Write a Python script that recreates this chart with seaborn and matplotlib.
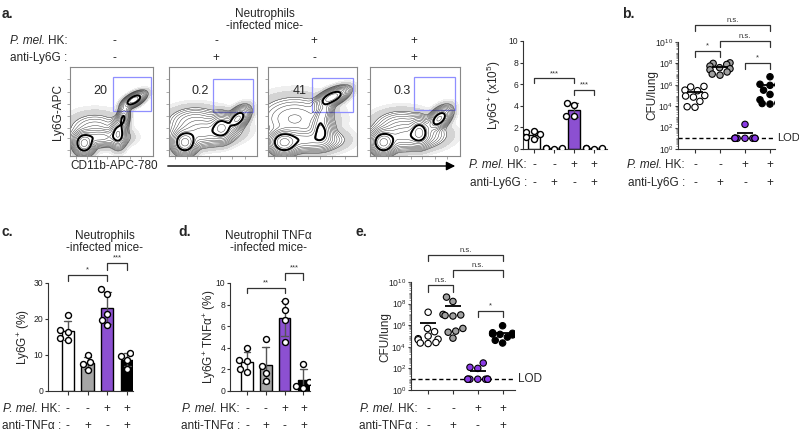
import numpy as np
import pandas as pd
import matplotlib
matplotlib.use('Agg')
import matplotlib.pyplot as plt
import matplotlib.transforms as transforms
from matplotlib.patches import FancyArrowPatch, Rectangle
import seaborn as sns

sns.set_style('ticks')
plt.rcParams['font.family'] = ['Liberation Sans', 'DejaVu Sans']
plt.rcParams['mathtext.fontset'] = 'custom'
plt.rcParams['mathtext.rm'] = 'Liberation Sans'
plt.rcParams['mathtext.it'] = 'Liberation Sans:italic'
plt.rcParams['mathtext.bf'] = 'Liberation Sans:bold'

# ---- data ----
hk_signs = ['-', '-', '+', '+']
treat_signs = ['-', '+', '-', '+']
flow_pct = ['20', '0.2', '41', '0.3']

# flow density clusters: (cx, cy, sx, sy, rho, weight) in plot fraction
flow_ctrl = [(0.17, 0.14, 0.055, 0.055, 0.0, 1.0), (0.36, 0.21, 0.14, 0.045, 0.0, 0.30),
             (0.58, 0.25, 0.045, 0.07, 0.0, 0.55), (0.64, 0.42, 0.035, 0.07, 0.3, 0.40),
             (0.77, 0.63, 0.06, 0.04, 0.6, 0.80), (0.30, 0.30, 0.16, 0.09, 0.0, 0.06)]
flow_ly6g = [(0.18, 0.15, 0.06, 0.06, 0.0, 1.0), (0.40, 0.26, 0.17, 0.07, 0.2, 0.30),
             (0.60, 0.32, 0.06, 0.07, 0.0, 0.55), (0.78, 0.42, 0.06, 0.06, 0.5, 0.65),
             (0.30, 0.38, 0.15, 0.08, 0.0, 0.10)]
flow_hk = [(0.18, 0.15, 0.07, 0.06, 0.0, 1.0), (0.40, 0.18, 0.18, 0.06, 0.0, 0.35),
           (0.60, 0.28, 0.06, 0.08, 0.0, 0.45), (0.62, 0.48, 0.05, 0.08, 0.5, 0.35),
           (0.72, 0.66, 0.08, 0.05, 0.6, 0.85), (0.30, 0.42, 0.20, 0.12, 0.0, 0.10)]
flow_hk_ly6g = [(0.15, 0.15, 0.06, 0.06, 0.0, 1.0), (0.40, 0.22, 0.18, 0.07, 0.1, 0.30),
                (0.55, 0.27, 0.05, 0.07, 0.0, 0.55), (0.77, 0.42, 0.06, 0.06, 0.5, 0.65),
                (0.35, 0.35, 0.15, 0.08, 0.0, 0.08)]

# a: Ly6G+ counts (x10^5)
a_ctrl = [1.7, 1.55, 1.35, 1.1, 0.95]
a_ly6g = [0.06, 0.04, 0.05, 0.05]
a_hk = [4.3, 4.05, 3.1, 3.05]
a_hk_ly6g = [0.05, 0.06, 0.04, 0.05]

# b: log10 CFU/lung
b_ctrl = [5.85, 5.8, 5.5, 5.45, 5.0, 4.95, 4.85, 4.45, 3.95, 3.9]
b_ly6g = [8.05, 8.0, 7.9, 7.75, 7.6, 7.5, 7.4, 7.2, 7.0, 6.9]
b_hk = [2.3, 1, 1, 1, 1, 1, 1, 1, 1]
b_hk_ly6g = [6.75, 6.05, 6.0, 5.95, 5.5, 5.1, 4.6, 4.3, 4.25, 4.2]

# c: Ly6G+ (%)
c_ctrl = [21.0, 17.0, 16.5, 14.8, 14.2]
c_tnf = [10.0, 8.0, 7.4, 5.8]
c_hk = [28.3, 27.0, 21.3, 19.8, 18.3]
c_hk_tnf = [10.5, 9.7, 8.6, 6.1]

# d: Ly6G+ TNFa+ (%)
d_ctrl = [4.0, 2.9, 2.8, 2.0, 1.8]
d_tnf = [4.8, 2.3, 1.7, 0.9]
d_hk = [8.3, 7.5, 6.6, 4.5]
d_hk_tnf = [2.5, 0.8, 0.5, 0.3]

# e: log10 CFU/lung
e_ctrl = [7.2, 5.7, 5.4, 5.0, 4.75, 4.7, 4.65, 4.4, 4.35, 4.3]
e_tnf = [8.6, 8.2, 7.0, 6.95, 6.9, 6.85, 5.7, 5.45, 5.35, 4.8]
e_hk = [2.5, 2.1, 2.0, 1, 1, 1, 1, 1, 1, 1]
e_hk_tnf = [5.95, 5.3, 5.25, 5.2, 5.2, 5.15, 5.1, 4.9, 4.6, 4.35]

lod_log = 1.0

purple = '#8b3be6'
bar_colors = ['white', '#a6a6a6', purple, 'black']
dot_colors = ['white', '#a0a0a0', purple, 'black']
line_col = '#333333'

FS = 8.5

W, H = 799, 432
fig = plt.figure(figsize=(W / 100, H / 100), dpi=100)
renderer = fig.canvas.get_renderer()


def px_axes(l, t, r, b):
    return fig.add_axes([l / W, 1 - b / H, (r - l) / W, (b - t) / H])


def ftext(x, y, s, **kw):
    return fig.text(x / W, 1 - y / H, s, **kw)


def hk_label(x, y, ha='right'):
    # "P. mel." in italics followed by "HK:" in roman
    if ha == 'right':
        t = ftext(x, y, 'HK:', ha='right', va='center', fontsize=FS)
        x0 = t.get_window_extent(renderer).x0
        ftext(x0 - 3, y, 'P. mel.', ha='right', va='center', fontsize=FS, style='italic')
    else:
        t = ftext(x, y, 'P. mel.', ha='left', va='center', fontsize=FS, style='italic')
        x1 = t.get_window_extent(renderer).x1
        ftext(x1 + 3, y, 'HK:', ha='left', va='center', fontsize=FS)


def style_axes(ax):
    sns.despine(ax=ax)
    for sp in ['left', 'bottom']:
        ax.spines[sp].set_color(line_col)
        ax.spines[sp].set_linewidth(0.8)
    ax.tick_params(axis='y', labelsize=6.2, length=2.5, width=0.8, pad=0.8, colors=line_col, labelcolor='#222')
    ax.tick_params(axis='x', length=3, width=0.8, labelbottom=False, colors=line_col)
    ax.set_xlabel('')
    ax.set_ylabel('')


def sign_rows(ax, label_right, y1, y2, row2_label):
    tr = transforms.blended_transform_factory(ax.transData, fig.transFigure)
    for i in range(4):
        ax.text(i, 1 - y1 / H, hk_signs[i], transform=tr, ha='center', va='center', fontsize=FS)
        ax.text(i, 1 - y2 / H, treat_signs[i], transform=tr, ha='center', va='center', fontsize=FS)
    hk_label(label_right, y1)
    ftext(label_right, y2, row2_label, ha='right', va='center', fontsize=FS)


def bracket(ax, x1, x2, y, tick, label, log=False):
    if log:
        y0, yt, yl = 10 ** y, 10 ** (y - tick), 10 ** (y + 0.12)
    else:
        y0, yt, yl = y, y - tick, y + tick * 0.25
    ax.plot([x1, x1, x2, x2], [yt, y0, y0, yt], color=line_col, lw=0.9, clip_on=False)
    ax.text((x1 + x2) / 2, yl, label, ha='center', va='bottom', fontsize=5.5, color='#333', clip_on=False)


def long_df(groups, log=False):
    vals = np.concatenate([np.asarray(g, dtype=float) for g in groups])
    if log:
        vals = 10 ** vals
    grp = np.concatenate([[str(i)] * len(g) for i, g in enumerate(groups)])
    return pd.DataFrame({'grp': grp, 'val': vals})


def bar_panel(ax, groups, ylim, yticks):
    df = long_df(groups)
    order = ['0', '1', '2', '3']
    sns.barplot(data=df, x='grp', y='val', hue='grp', order=order, hue_order=order,
                palette=dict(zip(order, bar_colors)), legend=False, errorbar='sd',
                capsize=0.35, err_kws={'linewidth': 1, 'color': '#555555'},
                edgecolor='black', linewidth=1, width=0.62, ax=ax)
    sns.swarmplot(data=df, x='grp', y='val', order=order, color='white',
                  edgecolor='black', linewidth=1, size=4.3, ax=ax)
    ax.set_ylim(*ylim)
    ax.set_yticks(yticks)
    style_axes(ax)


def cfu_panel(ax, groups, xlim):
    df = long_df(groups, log=True)
    order = ['0', '1', '2', '3']
    sns.swarmplot(data=df, x='grp', y='val', hue='grp', order=order, hue_order=order,
                  palette=dict(zip(order, dot_colors)), legend=False, log_scale=True,
                  edgecolor='black', linewidth=0.8, size=4.6, ax=ax)
    for i, g in enumerate(groups):
        m = np.mean(10 ** np.asarray(g, dtype=float))
        ax.hlines(m, i - 0.32, i + 0.32, color='black', lw=1.3, zorder=5)
    ax.set_ylim(1, 1e10)
    ax.set_xlim(*xlim)
    ax.set_yticks([10 ** k for k in range(0, 11, 2)])
    ax.set_yticklabels([r'$10^{%d}$' % k for k in range(0, 11, 2)])
    ax.yaxis.set_minor_locator(matplotlib.ticker.LogLocator(base=10, subs=np.arange(1, 10), numticks=100))
    ax.yaxis.set_minor_formatter(matplotlib.ticker.NullFormatter())
    style_axes(ax)
    ax.tick_params(axis='y', which='minor', length=1.5, width=0.5, colors='#777')


def flow_panel(ax, clusters, pct, gate):
    g = np.linspace(0, 1, 240)
    X, Y = np.meshgrid(g, g)
    Z = np.zeros_like(X)
    for cx, cy, sx, sy, rho, w in clusters:
        dx = (X - cx) / sx
        dy = (Y - cy) / sy
        q = (dx ** 2 - 2 * rho * dx * dy + dy ** 2) / (1 - rho ** 2)
        Z += w * np.exp(-0.5 * q)
    Z /= Z.max()
    ax.contourf(X, Y, Z, levels=[0.0008, 0.003], colors=['#efefef'])
    ax.contourf(X, Y, Z, levels=[0.003, 0.012], colors=['#d4d4d4'])
    ax.contour(X, Y, Z, levels=np.geomspace(0.012, 0.8, 12), colors='#222222', linewidths=0.3)
    ax.contour(X, Y, Z, levels=[0.35], colors='black', linewidths=1.4)
    ax.add_patch(Rectangle((gate[0], gate[1]), gate[2] - gate[0], gate[3] - gate[1],
                           fill=False, edgecolor='#8f8fff', lw=0.9))
    ax.text(0.36, 0.73, pct, ha='center', va='center', fontsize=9, transform=ax.transAxes)
    ax.set_xlim(0, 1)
    ax.set_ylim(0, 1)
    ax.set_xticks([0.07, 0.2, 0.32, 0.45, 0.58, 0.72, 0.86])
    ax.set_yticks([0.07, 0.2, 0.32, 0.45, 0.58, 0.72, 0.86])
    ax.tick_params(length=2, width=0.5, colors='#888', labelbottom=False, labelleft=False)
    for sp in ax.spines.values():
        sp.set_color('#888888')
        sp.set_linewidth(0.8)


# ---------------- panel a ----------------
ftext(2, 14, 'a.', fontsize=10, fontweight='bold', va='center')
ftext(265, 14, 'Neutrophils', ha='center', va='center', fontsize=FS)
ftext(265, 26, '-infected mice-', ha='center', va='center', fontsize=FS)
hk_label(10, 41, ha='left')
ftext(10, 58, 'anti-Ly6G :', ha='left', va='center', fontsize=FS)
for xs, s1, s2 in zip([114, 216, 314, 414], hk_signs, treat_signs):
    ftext(xs, 41, s1, ha='center', va='center', fontsize=FS)
    ftext(xs, 58, s2, ha='center', va='center', fontsize=FS)

flow_axes = [(70, 67, 153, 156), (169, 67, 257, 156), (268, 67, 357, 156), (370, 67, 460, 156)]
gates = [(0.52, 0.51, 0.98, 0.89), (0.50, 0.50, 0.95, 0.87), (0.49, 0.50, 0.96, 0.88), (0.49, 0.52, 0.94, 0.89)]
for rect, cl, pct, gate in zip(flow_axes, [flow_ctrl, flow_ly6g, flow_hk, flow_hk_ly6g], flow_pct, gates):
    flow_panel(px_axes(*rect), cl, pct, gate)
ftext(58, 112, 'Ly6G-APC', rotation=90, ha='center', va='center', fontsize=FS)
ftext(70, 166, 'CD11b-APC-780', ha='left', va='center', fontsize=FS)
fig.add_artist(FancyArrowPatch((165 / W, 1 - 166 / H), (458 / W, 1 - 166 / H),
                               transform=fig.transFigure, arrowstyle='-|>', mutation_scale=13,
                               lw=1, color='black'))

ax_a = px_axes(523, 41, 607, 149)
bar_panel(ax_a, [a_ctrl, a_ly6g, a_hk, a_hk_ly6g], (0, 10), [0, 2, 4, 6, 8, 10])
ax_a.set_xlim(-0.55, 3.65)
bracket(ax_a, 0, 2, 6.55, 0.45, '***')
bracket(ax_a, 2, 3, 5.5, 0.5, '***')
sign_rows(ax_a, 527, 165, 183, 'anti-Ly6G :')
ftext(494, 95, r'Ly6G$^{+}$ (x10$^{5}$)', rotation=90, ha='center', va='center', fontsize=FS)

# ---------------- panel b ----------------
ftext(622, 14, 'b.', fontsize=10, fontweight='bold', va='center')
ax_b = px_axes(678, 42, 775, 149)
cfu_panel(ax_b, [b_ctrl, b_ly6g, b_hk, b_hk_ly6g], (-0.68, 3.2))
ax_b.plot([-0.68, 3.2], [10 ** lod_log] * 2, ls='--', dashes=(3, 2), color='black', lw=1, clip_on=False)
ftext(777, 138, 'LOD', ha='left', va='center', fontsize=8)
bracket(ax_b, 0, 3, 11.6, 0.6, 'n.s.', log=True)
bracket(ax_b, 1, 3, 10.1, 0.6, 'n.s.', log=True)
bracket(ax_b, 0, 1, 9.16, 0.6, '*', log=True)
bracket(ax_b, 2, 3, 8.04, 0.6, '*', log=True)
sign_rows(ax_b, 685, 165, 183, 'anti-Ly6G :')
ftext(652, 95, 'CFU/lung', rotation=90, ha='center', va='center', fontsize=FS)

# ---------------- panel c ----------------
ftext(2, 232, 'c.', fontsize=10, fontweight='bold', va='center')
ftext(105, 236, 'Neutrophils', ha='center', va='center', fontsize=FS)
ftext(105, 248, '-infected mice-', ha='center', va='center', fontsize=FS)
ax_c = px_axes(48, 283, 133, 391)
bar_panel(ax_c, [c_ctrl, c_tnf, c_hk, c_hk_tnf], (0, 30), [0, 10, 20, 30])
ax_c.set_xlim(-1.0, 3.3)
bracket(ax_c, 0, 2, 32.2, 1.7, '*')
bracket(ax_c, 2, 3, 35.5, 1.9, '***')
sign_rows(ax_c, 61, 409, 426, 'anti-TNFα :')
ftext(24, 337, r'Ly6G$^{+}$ (%)', rotation=90, ha='center', va='center', fontsize=FS)

# ---------------- panel d ----------------
ftext(178, 232, 'd.', fontsize=10, fontweight='bold', va='center')
ftext(268, 236, 'Neutrophil TNFα', ha='center', va='center', fontsize=FS)
ftext(268, 248, '-infected mice-', ha='center', va='center', fontsize=FS)
ax_d = px_axes(230, 283, 310, 391)
bar_panel(ax_d, [d_ctrl, d_tnf, d_hk, d_hk_tnf], (0, 10), [0, 2, 4, 6, 8, 10])
ax_d.set_xlim(-0.9, 3.35)
bracket(ax_d, 0, 2, 9.55, 0.45, '**')
bracket(ax_d, 2, 3, 10.9, 0.6, '***')
sign_rows(ax_d, 240, 409, 426, 'anti-TNFα :')
ftext(210, 337, r'Ly6G$^{+}$ TNFα$^{+}$ (%)', rotation=90, ha='center', va='center', fontsize=FS)

# ---------------- panel e ----------------
ftext(355, 232, 'e.', fontsize=10, fontweight='bold', va='center')
ax_e = px_axes(411, 282, 515, 390)
cfu_panel(ax_e, [e_ctrl, e_tnf, e_hk, e_hk_tnf], (-0.69, 3.5))
ax_e.plot([-0.69, 3.5], [10 ** lod_log] * 2, ls='--', dashes=(3, 2), color='black', lw=1, clip_on=False)
ftext(518, 379, 'LOD', ha='left', va='center', fontsize=FS)
bracket(ax_e, 0, 3, 12.5, 0.6, 'n.s.', log=True)
bracket(ax_e, 1, 3, 11.1, 0.6, 'n.s.', log=True)
bracket(ax_e, 0, 1, 9.7, 0.6, 'n.s.', log=True)
bracket(ax_e, 2, 3, 7.35, 0.6, '*', log=True)
sign_rows(ax_e, 418, 409, 426, 'anti-TNFα :')
ftext(385, 337, 'CFU/lung', rotation=90, ha='center', va='center', fontsize=FS)

fig.savefig('out.png', dpi=100)
